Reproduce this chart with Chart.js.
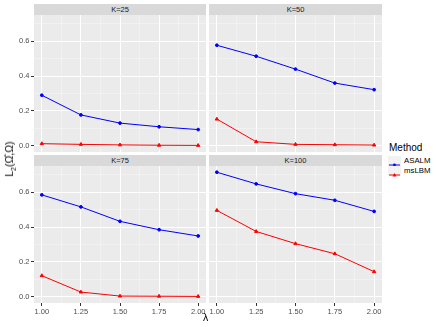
<!DOCTYPE html>
<html>
<head>
<meta charset="utf-8">
<script src="https://cdn.jsdelivr.net/npm/chart.js@4/dist/chart.umd.min.js"></script>
<style>
  html, body { margin: 0; padding: 0; background: #fff; }
  #page { position: relative; width: 436px; height: 327px; overflow: hidden;
          font-family: "Liberation Sans", Arial, sans-serif; }
  canvas { position: absolute; }
  .strip { position: absolute; background: #D9D9D9; color: #1A1A1A;
           font-size: 7.5px; text-align: center; }
  .ttl { position: absolute; color: #000; white-space: nowrap; }
  .key { position: absolute; width: 13px; height: 10px; background: #F2F2F2; }
  .lab { position: absolute; font-size: 7.8px; color: #000; line-height: 10px; }
</style>
</head>
<body>
<div id="page"></div>
<script>
/* ---------- data ---------- */
const lambdas = [1.00, 1.25, 1.50, 1.75, 2.00];
const panelTitles = ["K=25", "K=50", "K=75", "K=100"];
const methods = ["ASALM", "msLBM"];

const asalm25  = [0.290, 0.177, 0.130, 0.109, 0.093];
const mslbm25  = [0.012, 0.008, 0.005, 0.003, 0.002];
const asalm50  = [0.577, 0.514, 0.440, 0.360, 0.322];
const mslbm50  = [0.153, 0.023, 0.008, 0.006, 0.004];
const asalm75  = [0.585, 0.516, 0.433, 0.385, 0.349];
const mslbm75  = [0.121, 0.027, 0.004, 0.003, 0.002];
const asalm100 = [0.715, 0.648, 0.592, 0.554, 0.490];
const mslbm100 = [0.496, 0.375, 0.305, 0.247, 0.144];

const xMajor = [1.00, 1.25, 1.50, 1.75, 2.00];
const xMinor = [1.125, 1.375, 1.625, 1.875];
const yMajor = [0.0, 0.2, 0.4, 0.6];
const yMinor = [0.1, 0.3, 0.5, 0.7];

/* ---------- helpers ---------- */
const $ = (sel) => document.querySelector(sel);
const page = $("#page");
const colors = { ASALM: "#0000FF", msLBM: "#FF0000" };
const TICK_FONT = { family: "Liberation Sans", size: 7.5 };
const YAXIS_W = 34, XAXIS_H = 15;

const pts = (vals) => lambdas.map((l, i) => ({ x: l, y: vals[i] }));
const isMajor = (v, list) => list.some((m) => Math.abs(m - v) < 1e-9);

const panelBg = {
  id: "panelBg",
  beforeDraw(chart) {
    const { ctx, chartArea: a } = chart;
    ctx.save();
    ctx.fillStyle = "#EBEBEB";
    ctx.fillRect(a.left, a.top, a.right - a.left, a.bottom - a.top);
    ctx.restore();
  },
};

function el(cls, css, html) {
  const d = document.createElement("div");
  d.className = cls;
  Object.assign(d.style, css);
  if (html !== undefined) d.innerHTML = html;
  page.appendChild(d);
  return d;
}

function makePanel(p, title, seriesA, seriesB) {
  const cv = document.createElement("canvas");
  const left = p.left - (p.showY ? YAXIS_W : 0);
  const w = p.w + (p.showY ? YAXIS_W : 0);
  const h = p.h + (p.showX ? XAXIS_H : 0);
  cv.width = w; cv.height = h;
  Object.assign(cv.style, { left: left + "px", top: p.top + "px", width: w + "px", height: h + "px" });
  page.appendChild(cv);

  el("strip", { left: p.left + "px", top: (p.top - 11.5) + "px", width: p.w + "px",
                height: "11.5px", lineHeight: "11.5px" }, title);

  const gridOpts = (major) => ({
    color: (c) => (isMajor(c.tick.value, major) ? "#FFFFFF" : "rgba(255,255,255,0.6)"),
    lineWidth: (c) => (isMajor(c.tick.value, major) ? 1 : 0.5),
    tickColor: (c) => (isMajor(c.tick.value, major) ? "#333333" : "rgba(0,0,0,0)"),
    tickLength: 3,
    tickWidth: 1,
  });

  new Chart(cv, {
    type: "line",
    data: {
      datasets: [
        { label: methods[0], data: pts(seriesA), borderColor: colors.ASALM, backgroundColor: colors.ASALM,
          borderWidth: 1, pointRadius: 1.4, pointStyle: "circle", tension: 0 },
        { label: methods[1], data: pts(seriesB), borderColor: colors.msLBM, backgroundColor: colors.msLBM,
          borderWidth: 1, pointRadius: 1.9, pointStyle: "triangle", tension: 0 },
      ],
    },
    options: {
      responsive: false, animation: false, devicePixelRatio: 1,
      layout: { padding: 0, autoPadding: false },
      plugins: { legend: { display: false }, tooltip: { enabled: false } },
      scales: {
        x: {
          type: "linear", min: 0.95, max: 2.05,
          afterBuildTicks: (s) => { s.ticks = [...xMajor, ...xMinor].sort().map((v) => ({ value: v })); },
          afterFit: (s) => { s.height = p.showX ? XAXIS_H : 0; s.paddingLeft = 0; s.paddingRight = 0; },
          ticks: { display: p.showX, autoSkip: false, maxRotation: 0, padding: 1,
                   font: TICK_FONT, color: "#4D4D4D",
                   callback: (v) => (isMajor(v, xMajor) ? v.toFixed(2) : "") },
          grid: { ...gridOpts(xMajor), drawTicks: p.showX },
          border: { display: false },
        },
        y: {
          type: "linear", min: -0.0358, max: 0.7508,
          afterBuildTicks: (s) => { s.ticks = [...yMajor, ...yMinor].sort().map((v) => ({ value: v })); },
          afterFit: (s) => { s.width = p.showY ? YAXIS_W : 0; s.paddingTop = 0; s.paddingBottom = 0; },
          ticks: { display: p.showY, autoSkip: false, padding: 1.5,
                   font: TICK_FONT, color: "#4D4D4D",
                   callback: (v) => (isMajor(v, yMajor) ? v.toFixed(1) : "") },
          grid: { ...gridOpts(yMajor), drawTicks: p.showY },
          border: { display: false },
        },
      },
    },
    plugins: [panelBg],
  });
}

/* ---------- panels ---------- */
const panels = [
  { left: 34,  top: 15,  w: 172, h: 137, showY: true,  showX: false },
  { left: 209, top: 15,  w: 173, h: 137, showY: false, showX: false },
  { left: 34,  top: 166, w: 172, h: 137, showY: true,  showX: true },
  { left: 209, top: 166, w: 173, h: 137, showY: false, showX: true },
];
const series = [[asalm25, mslbm25], [asalm50, mslbm50], [asalm75, mslbm75], [asalm100, mslbm100]];
panels.forEach((p, i) => makePanel(p, panelTitles[i], series[i][0], series[i][1]));

/* ---------- axis titles ---------- */
el("ttl", { left: "203px", top: "311px", fontSize: "10.5px" }, "λ");
el("ttl", { left: "10px", top: "159px", fontSize: "10.5px",
            transform: "translate(-50%,-50%) rotate(-90deg)" },
   "L<sub style='font-size:7px'>2</sub>(Ω&#770;,Ω)");

/* ---------- legend ---------- */
el("ttl", { left: "389px", top: "142px", fontSize: "10px" }, "Method");
methods.forEach((m, i) => {
  const y = 155.5 + i * 10;
  const k = el("key", { left: "388px", top: y + "px" });
  const shape = m === "ASALM"
    ? "<circle cx='6.5' cy='5' r='1.4' fill='" + colors[m] + "'/>"
    : "<polygon points='6.5,3 8.5,6.5 4.5,6.5' fill='" + colors[m] + "'/>";
  k.innerHTML = "<svg width='13' height='10'><line x1='1' y1='5' x2='12' y2='5' stroke='" + colors[m] +
    "' stroke-width='1'/>" + shape + "</svg>";
  el("lab", { left: "404px", top: y + "px" }, m);
});
</script>
</body>
</html>
